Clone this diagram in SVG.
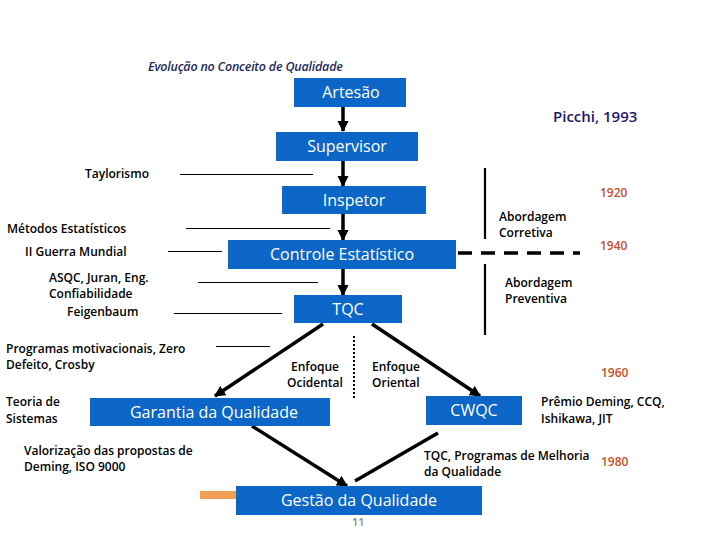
<svg xmlns="http://www.w3.org/2000/svg" width="720" height="540" viewBox="0 0 720 540">
<defs>
<style>
.box{fill:#0b66c8}
.bt{font-family:"Open Sans","Liberation Sans",sans-serif;font-size:16px;fill:#ffffff;text-anchor:middle}
.lb{font-family:"Open Sans","Liberation Sans",sans-serif;font-size:12px;font-weight:600;fill:#000000}
.yr{font-family:"Open Sans","Liberation Sans",sans-serif;font-size:12px;font-weight:600;fill:#c8502a}
.ln{stroke:#000000;stroke-width:1;fill:none}
.ar{stroke:#000000;stroke-width:3.5;fill:none}
</style>
<marker id="ah" viewBox="0 0 10 10" refX="9" refY="5" markerWidth="3.2" markerHeight="3.2" orient="auto" markerUnits="strokeWidth">
<path d="M0,0 L10,5 L0,10 z" fill="#000000"/>
</marker>
</defs>
<rect width="720" height="540" fill="#ffffff"/>
<text x="148" y="71" font-family="'Open Sans','Liberation Sans',sans-serif" font-size="12.5" font-style="italic" font-weight="600" fill="#1f2a5a" letter-spacing="-0.2">Evolução no Conceito de Qualidade</text>
<text x="553" y="122" font-family="'Open Sans','Liberation Sans',sans-serif" font-size="15" font-weight="600" fill="#21186b">Picchi, 1993</text>
<text x="352" y="526" font-family="'Open Sans','Liberation Sans',sans-serif" font-size="11" font-weight="600" fill="#8a8a8a">11</text>
<rect x="200" y="491" width="36" height="8" fill="#f0a055"/>
<g id="connectors">
<line class="ar" x1="343" y1="107" x2="343" y2="131" marker-end="url(#ah)"/>
<line class="ar" x1="343" y1="161" x2="343" y2="186" marker-end="url(#ah)"/>
<line class="ar" x1="343" y1="214" x2="343" y2="240" marker-end="url(#ah)"/>
<line class="ar" x1="343" y1="269" x2="343" y2="295" marker-end="url(#ah)"/>
<line class="ar" x1="323" y1="324" x2="215" y2="396" marker-end="url(#ah)"/>
<line class="ar" x1="372" y1="324" x2="480" y2="396" marker-end="url(#ah)"/>
<line class="ar" x1="252" y1="426" x2="347" y2="486" marker-end="url(#ah)"/>
<line class="ar" x1="438" y1="433" x2="355" y2="481"/>
<line stroke="#000" stroke-width="2" x1="354" y1="336" x2="354" y2="398" stroke-dasharray="2 2"/>
<line stroke="#000" stroke-width="2.2" x1="485" y1="168" x2="485" y2="239"/>
<line stroke="#000" stroke-width="2.2" x1="485" y1="264" x2="485" y2="335"/>
<line stroke="#000" stroke-width="3.5" x1="458" y1="253" x2="580" y2="253" stroke-dasharray="14 9"/>
<line class="ln" x1="180" y1="174.5" x2="313" y2="174.5"/>
<line class="ln" x1="186" y1="228.5" x2="330" y2="228.5"/>
<line class="ln" x1="168" y1="251.5" x2="222" y2="251.5"/>
<line class="ln" x1="198" y1="282.5" x2="318" y2="282.5"/>
<line class="ln" x1="174" y1="313.5" x2="282" y2="313.5"/>
<line class="ln" x1="216" y1="346.5" x2="270" y2="346.5"/>
</g>
<g id="artesao"><rect class="box" x="294" y="78" width="112" height="29"/><text class="bt" x="351" y="98">Artesão</text></g>
<g id="supervisor"><rect class="box" x="276" y="132" width="142" height="29"/><text class="bt" x="347" y="152">Supervisor</text></g>
<g id="inspetor"><rect class="box" x="282" y="186" width="144" height="28"/><text class="bt" x="354" y="206">Inspetor</text></g>
<g id="controle"><rect class="box" x="228" y="240" width="228" height="29"/><text class="bt" x="342" y="260">Controle Estatístico</text></g>
<g id="tqc"><rect class="box" x="294" y="295" width="108" height="28"/><text class="bt" x="348" y="315">TQC</text></g>
<g id="garantia"><rect class="box" x="90" y="398" width="240" height="28"/><text class="bt" x="214" y="418" font-size="17.5">Garantia da Qualidade</text></g>
<g id="cwqc"><rect class="box" x="426" y="396" width="96" height="29"/><text class="bt" x="474" y="416">CWQC</text></g>
<g id="gestao"><rect class="box" x="236" y="486" width="246" height="29"/><text class="bt" x="359" y="506">Gestão da Qualidade</text></g>
<g id="labels">
<text class="lb" x="149" y="178" text-anchor="end">Taylorismo</text>
<text class="lb" x="7" y="233">Métodos Estatísticos</text>
<text class="lb" x="25" y="256">II Guerra Mundial</text>
<text class="lb" x="49" y="282">ASQC, Juran, Eng.</text>
<text class="lb" x="49" y="298">Confiabilidade</text>
<text class="lb" x="67" y="316">Feigenbaum</text>
<text class="lb" x="6" y="353">Programas motivacionais, Zero</text>
<text class="lb" x="6" y="369">Defeito, Crosby</text>
<text class="lb" x="6" y="406">Teoria de</text>
<text class="lb" x="6" y="423">Sistemas</text>
<text class="lb" x="24" y="455">Valorização das propostas de</text>
<text class="lb" x="24" y="471">Deming, ISO 9000</text>
<text class="lb" x="315" y="371" text-anchor="middle">Enfoque</text>
<text class="lb" x="315" y="387" text-anchor="middle">Ocidental</text>
<text class="lb" x="372" y="371">Enfoque</text>
<text class="lb" x="372" y="387">Oriental</text>
<text class="lb" x="499" y="221">Abordagem</text>
<text class="lb" x="499" y="237">Corretiva</text>
<text class="lb" x="505" y="287">Abordagem</text>
<text class="lb" x="505" y="303">Preventiva</text>
<text class="lb" x="541" y="406">Prêmio Deming, CCQ,</text>
<text class="lb" x="541" y="423">Ishikawa, JIT</text>
<text class="lb" x="424" y="460">TQC, Programas de Melhoria</text>
<text class="lb" x="424" y="476">da Qualidade</text>
<text class="yr" x="600" y="197">1920</text>
<text class="yr" x="600" y="250">1940</text>
<text class="yr" x="601" y="377">1960</text>
<text class="yr" x="601" y="466">1980</text>
</g>
</svg>
